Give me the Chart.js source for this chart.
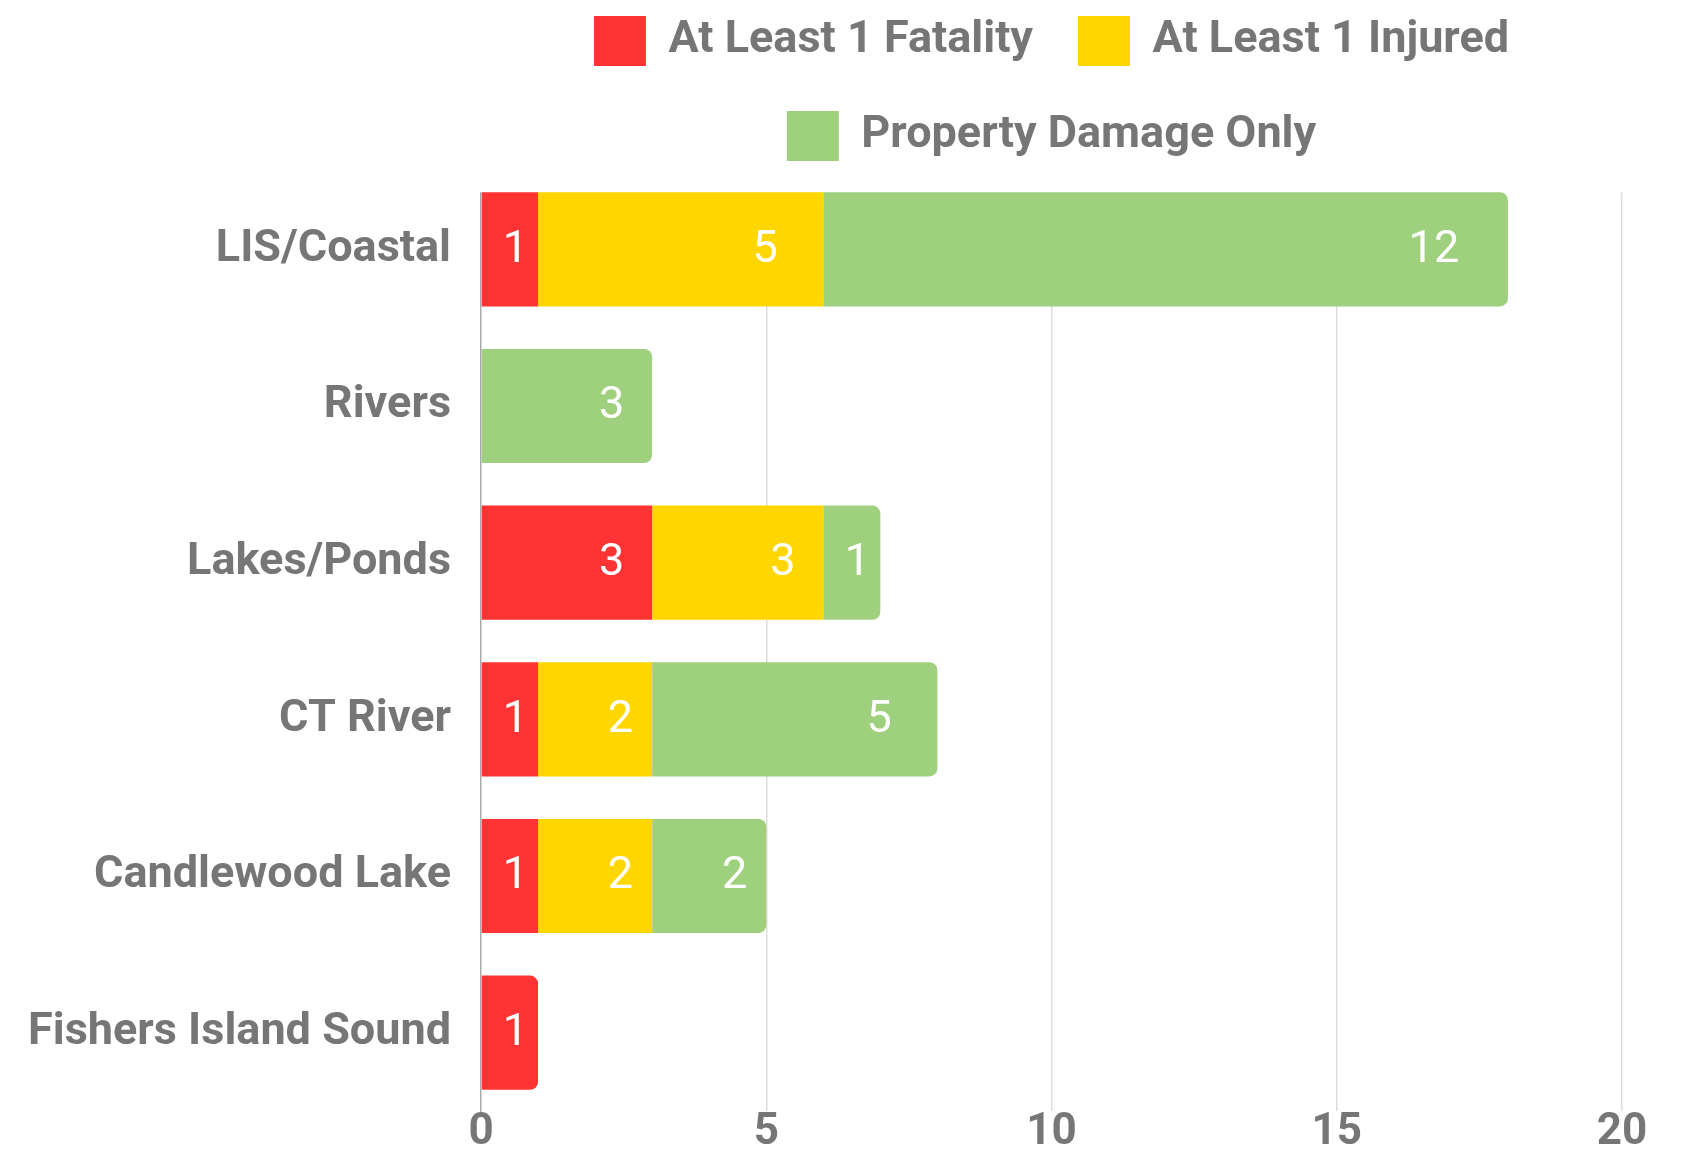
<!DOCTYPE html>
<html>
<head>
<meta charset="utf-8">
<script src="https://cdn.jsdelivr.net/npm/chart.js@4"></script>
<style>
  html, body { margin: 0; padding: 0; background: #ffffff; }
  #wrap { width: 1696px; height: 1152px; position: relative; }
</style>
</head>
<body>
<div id="wrap"><canvas id="c" width="1696" height="1152"></canvas></div>
<script>
const categories = ['LIS/Coastal', 'Rivers', 'Lakes/Ponds', 'CT River', 'Candlewood Lake', 'Fishers Island Sound'];
const fatality = [1, 0, 3, 1, 1, 1];
const injured = [5, 0, 3, 2, 2, 0];
const propertyOnly = [12, 3, 1, 5, 2, 0];
const seriesNames = ['At Least 1 Fatality', 'At Least 1 Injured', 'Property Damage Only'];
const xTicks = [0, 5, 10, 15, 20];

const FONT = 'Roboto';
const GREY = '#767676';
const colors = ['#FF3333', '#FFD600', '#9FD07E'];
const allSeries = [fatality, injured, propertyOnly];

function endRadius(ctx) {
  const i = ctx.dataIndex, d = ctx.datasetIndex;
  const v = allSeries[d][i];
  if (!v) return 0;
  for (let k = d + 1; k < allSeries.length; k++) {
    if (allSeries[k][i]) return 0;
  }
  return { topLeft: 0, bottomLeft: 0, topRight: 8, bottomRight: 8 };
}

// Grid lines in the reference start at the top of the first bar
const trimGridTop = {
  id: 'trimGridTop',
  beforeDatasetsDraw(chart) {
    const meta = chart.getDatasetMeta(0);
    const el = meta.data[0];
    if (!el) return;
    const barTop = el.y - el.height / 2;
    const a = chart.chartArea;
    const ctx = chart.ctx;
    ctx.save();
    ctx.fillStyle = '#ffffff';
    ctx.fillRect(a.left - 3, a.top - 2, a.right - a.left + 6, barTop - a.top + 2);
    ctx.restore();
  }
};

const labelPlugin = {
  id: 'barLabels',
  afterDatasetsDraw(chart) {
    const ctx = chart.ctx;
    ctx.save();
    ctx.fillStyle = '#ffffff';
    ctx.font = '400 45px ' + FONT;
    ctx.textAlign = 'center';
    ctx.textBaseline = 'middle';
    chart.data.datasets.forEach((ds, di) => {
      const meta = chart.getDatasetMeta(di);
      meta.data.forEach((el, i) => {
        const v = ds.data[i];
        if (!v) return;
        const w = Math.abs(el.x - el.base);
        const off = Math.min(w / 2, 14 + 0.155 * w, 74);
        ctx.fillText(String(v), el.x - off, el.y + 1);
      });
    });
    ctx.restore();
  }
};

function build() {
  new Chart(document.getElementById('c'), {
    type: 'bar',
    data: {
      labels: categories,
      datasets: allSeries.map((arr, k) => ({
        label: seriesNames[k],
        data: arr,
        backgroundColor: colors[k],
        borderWidth: 0,
        borderRadius: endRadius,
        barPercentage: 0.9,
        categoryPercentage: 0.81
      }))
    },
    options: {
      indexAxis: 'y',
      responsive: false,
      animation: false,
      layout: { padding: { top: -29, left: 0, right: 74, bottom: 0 } },
      plugins: {
        legend: {
          position: 'top',
          fullSize: false,
          align: 'center',
          labels: {
            boxWidth: 52,
            boxHeight: 50,
            padding: 45,
            color: GREY,
            font: { family: FONT, size: 45, weight: '700' }
          }
        },
        tooltip: { enabled: false }
      },
      scales: {
        x: {
          stacked: true,
          min: 0,
          max: 20,
          afterBuildTicks(scale) { scale.ticks = xTicks.map(v => ({ value: v })); },
          afterFit(scale) { scale.height = 41; },
          grid: {
            color: (c) => (c.tick && c.tick.value === 0) ? 'rgba(0,0,0,0)' : '#dddddd',
            lineWidth: 1.5,
            drawTicks: false
          },
          border: { display: false },
          ticks: {
            padding: 0,
            color: GREY,
            font: { family: FONT, size: 44, weight: '700', lineHeight: 1 }
          }
        },
        y: {
          stacked: true,
          afterFit(scale) {
            scale.width = 481;
            scale.paddingTop = 0;
            scale.paddingBottom = 0;
          },
          grid: { display: false, drawTicks: false },
          border: { display: true, color: '#aaaaaa', width: 1.5 },
          ticks: {
            padding: 30,
            color: GREY,
            font: { family: FONT, size: 45, weight: '700' }
          }
        }
      }
    },
    plugins: [trimGridTop, labelPlugin]
  });
}

if (document.fonts && document.fonts.load) {
  Promise.all([
    document.fonts.load('700 45px Roboto'),
    document.fonts.load('400 45px Roboto')
  ]).then(build, build);
} else {
  build();
}
</script>
</body>
</html>
